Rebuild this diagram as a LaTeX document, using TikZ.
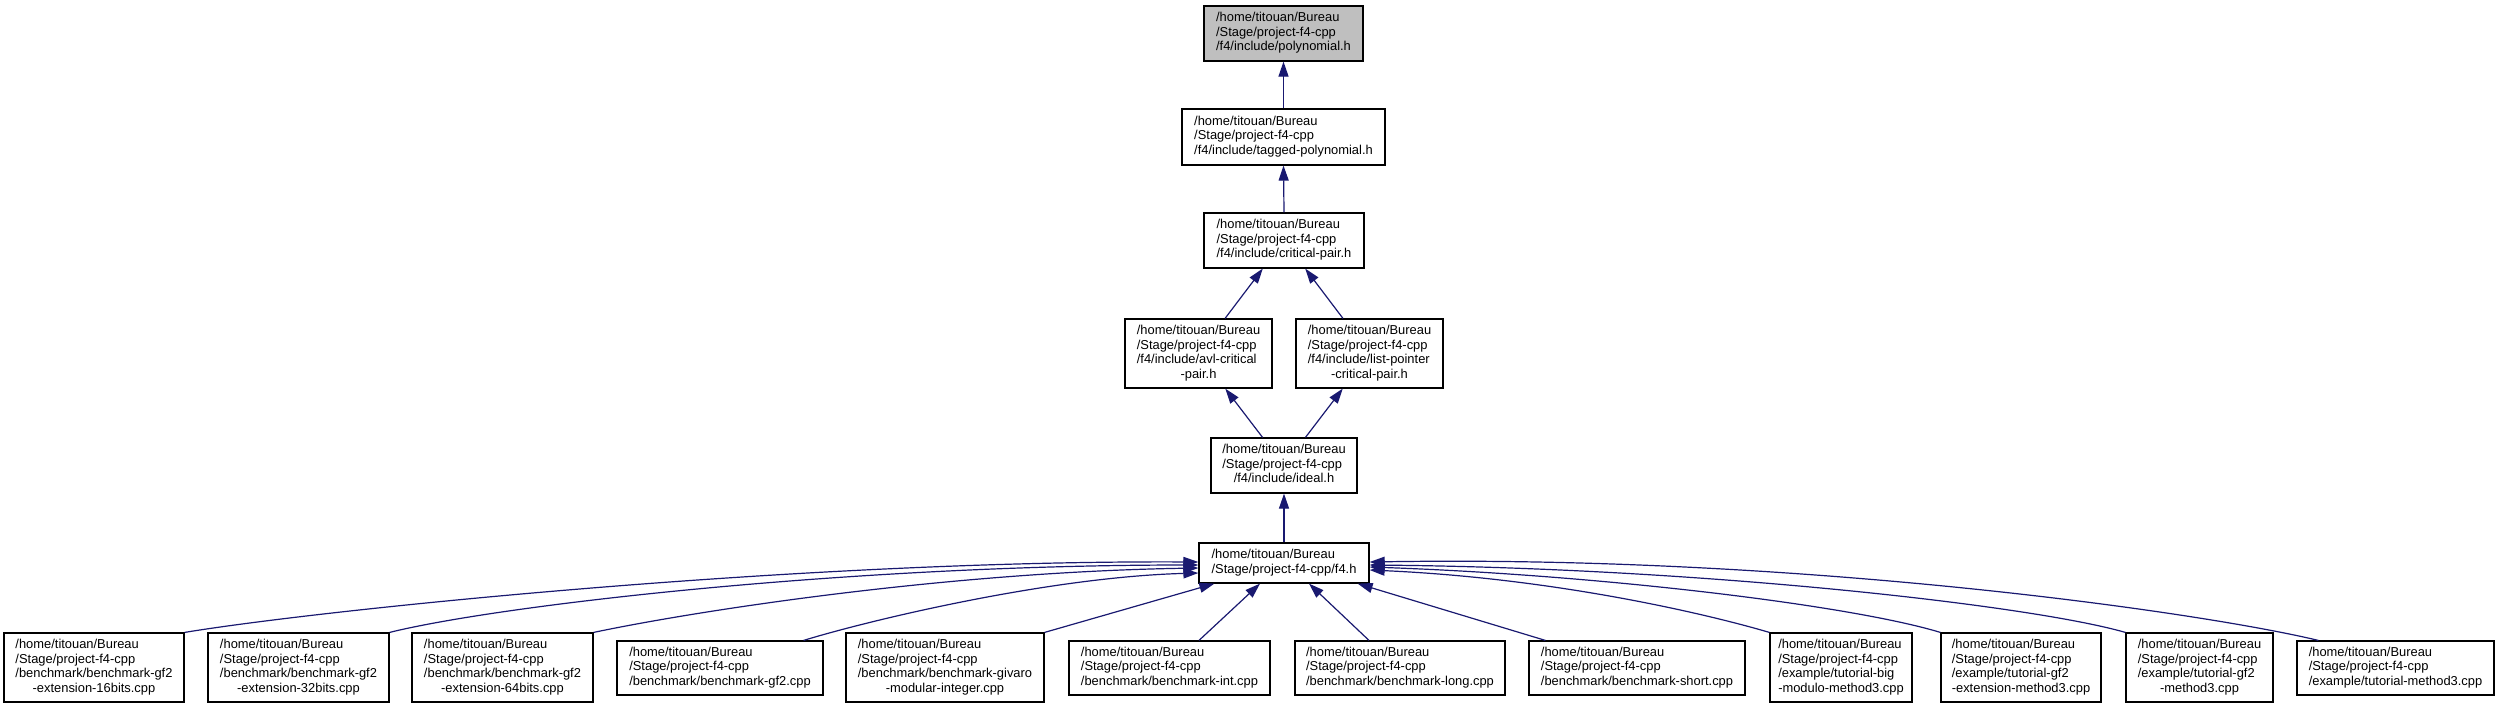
\documentclass[tikz,border=0pt]{standalone}
\usepackage{fontspec}
\setmainfont{Liberation Sans}
\usetikzlibrary{arrows.meta,calc}
\definecolor{edgeblue}{HTML}{191970}
\definecolor{rootgray}{HTML}{BFBFBF}
\newcommand{\dxt}[1]{\begin{tabular}{@{}l@{}}#1\end{tabular}}
\newcommand{\dxlast}[1]{\multicolumn{1}{@{}c@{}}{#1}}
\tikzset{
  dbox/.style={draw=black, line width=0.6pt, fill=white, inner sep=0pt, rectangle,
    font=\fontsize{6.45pt}{7.25pt}\selectfont},
  rootbox/.style={dbox, fill=rootgray},
  sz/.style 2 args={minimum width=#1*0.5pt, minimum height=#2*0.5pt},
  dxedge/.style={draw=edgeblue, line width=0.6pt, -{Triangle[length=7.5pt,width=5pt]}}
}
\begin{document}
\begin{tikzpicture}[x=0.5pt, y=-0.5pt]
\useasboundingbox (0,0) rectangle (2500,709);
% upper chain
\node[rootbox, sz={159}{55}] (poly) at (1283.5,33.5) {\dxt{/home/titouan/Bureau\\/Stage/project-f4-cpp\\\dxlast{/f4/include/polynomial.h}}};
\node[dbox, sz={203}{56}] (tagged) at (1283.5,137) {\dxt{/home/titouan/Bureau\\/Stage/project-f4-cpp\\\dxlast{/f4/include/tagged-polynomial.h}}};
\node[dbox, sz={160}{55}] (crit) at (1284,240.5) {\dxt{/home/titouan/Bureau\\/Stage/project-f4-cpp\\\dxlast{/f4/include/critical-pair.h}}};
\node[dbox, sz={147}{69}] (avl) at (1198.5,353.5) {\dxt{/home/titouan/Bureau\\/Stage/project-f4-cpp\\/f4/include/avl-critical\\\dxlast{-pair.h}}};
\node[dbox, sz={147}{69}] (list) at (1369.5,353.5) {\dxt{/home/titouan/Bureau\\/Stage/project-f4-cpp\\/f4/include/list-pointer\\\dxlast{-critical-pair.h}}};
\node[dbox, sz={146}{55}] (ideal) at (1284,465.5) {\dxt{/home/titouan/Bureau\\/Stage/project-f4-cpp\\\dxlast{/f4/include/ideal.h}}};
\node[dbox, sz={170}{40}] (f4) at (1284,563) {\dxt{/home/titouan/Bureau\\\dxlast{/Stage/project-f4-cpp/f4.h}}};
% bottom row
\node[dbox, sz={180}{69}] (b1) at (94,667.5) {\dxt{/home/titouan/Bureau\\/Stage/project-f4-cpp\\/benchmark/benchmark-gf2\\\dxlast{-extension-16bits.cpp}}};
\node[dbox, sz={181}{69}] (b2) at (298.5,667.5) {\dxt{/home/titouan/Bureau\\/Stage/project-f4-cpp\\/benchmark/benchmark-gf2\\\dxlast{-extension-32bits.cpp}}};
\node[dbox, sz={181}{69}] (b3) at (502.5,667.5) {\dxt{/home/titouan/Bureau\\/Stage/project-f4-cpp\\/benchmark/benchmark-gf2\\\dxlast{-extension-64bits.cpp}}};
\node[dbox, sz={206}{54}] (b4) at (720,668) {\dxt{/home/titouan/Bureau\\/Stage/project-f4-cpp\\\dxlast{/benchmark/benchmark-gf2.cpp}}};
\node[dbox, sz={198}{69}] (b5) at (945,667.5) {\dxt{/home/titouan/Bureau\\/Stage/project-f4-cpp\\/benchmark/benchmark-givaro\\\dxlast{-modular-integer.cpp}}};
\node[dbox, sz={201}{54}] (b6) at (1169.5,668) {\dxt{/home/titouan/Bureau\\/Stage/project-f4-cpp\\\dxlast{/benchmark/benchmark-int.cpp}}};
\node[dbox, sz={210}{54}] (b7) at (1400,668) {\dxt{/home/titouan/Bureau\\/Stage/project-f4-cpp\\\dxlast{/benchmark/benchmark-long.cpp}}};
\node[dbox, sz={216}{54}] (b8) at (1637,668) {\dxt{/home/titouan/Bureau\\/Stage/project-f4-cpp\\\dxlast{/benchmark/benchmark-short.cpp}}};
\node[dbox, sz={142}{69}] (b9) at (1841,667.5) {\dxt{/home/titouan/Bureau\\/Stage/project-f4-cpp\\/example/tutorial-big\\\dxlast{-modulo-method3.cpp}}};
\node[dbox, sz={160}{69}] (b10) at (2021,667.5) {\dxt{/home/titouan/Bureau\\/Stage/project-f4-cpp\\/example/tutorial-gf2\\\dxlast{-extension-method3.cpp}}};
\node[dbox, sz={147}{69}] (b11) at (2199.5,667.5) {\dxt{/home/titouan/Bureau\\/Stage/project-f4-cpp\\/example/tutorial-gf2\\\dxlast{-method3.cpp}}};
\node[dbox, sz={197}{54}] (b12) at (2395.5,668) {\dxt{/home/titouan/Bureau\\/Stage/project-f4-cpp\\\dxlast{/example/tutorial-method3.cpp}}};
% upper edges
\draw[dxedge] (tagged.north) -- (poly.south);
\draw[dxedge] (crit.north) -- (tagged.south);
\draw[dxedge] (avl) -- (crit);
\draw[dxedge] (list) -- (crit);
\draw[dxedge] (ideal) -- (avl);
\draw[dxedge] (ideal) -- (list);
\draw[dxedge] (f4.north) -- (ideal.south);
% left curves
\draw[dxedge] (b1.north east) .. controls (320,610) and (800,560) .. ($(f4.west)+(0,-1)$);
\draw[dxedge] (b2.north east) .. controls (500,605) and (850,565) .. ($(f4.west)+(0,2)$);
\draw[dxedge] (b3.north east) .. controls (700,610) and (950,572) .. ($(f4.west)+(0,5)$);
\draw[dxedge] ($(b4.north east)+(-20,0)$) .. controls (870,620) and (1050,577) .. ($(f4.west)+(0,10)$);
% straight lower edges
\draw[dxedge] (b5.north east) -- ($(f4.south west)+(16,0)$);
\draw[dxedge] ($(b6.north)+(29.5,0)$) -- ($(f4.south)+(-24,0)$);
\draw[dxedge] ($(b7.north)+(-31,0)$) -- ($(f4.south)+(25,0)$);
\draw[dxedge] ($(b8.north west)+(17,0)$) -- ($(f4.south east)+(-12,0)$);
% right curves
\draw[dxedge] (b9.north west) .. controls (1700,612) and (1550,578) .. ($(f4.east)+(0,7)$);
\draw[dxedge] (b10.north west) .. controls (1850,605) and (1600,575) .. ($(f4.east)+(0,4)$);
\draw[dxedge] (b11.north west) .. controls (2030,605) and (1700,568) .. ($(f4.east)+(0,2)$);
\draw[dxedge] ($(b12.north west)+(22,0)$) .. controls (2200,612) and (1800,555) .. ($(f4.east)+(0,-1)$);
\end{tikzpicture}
\end{document}
